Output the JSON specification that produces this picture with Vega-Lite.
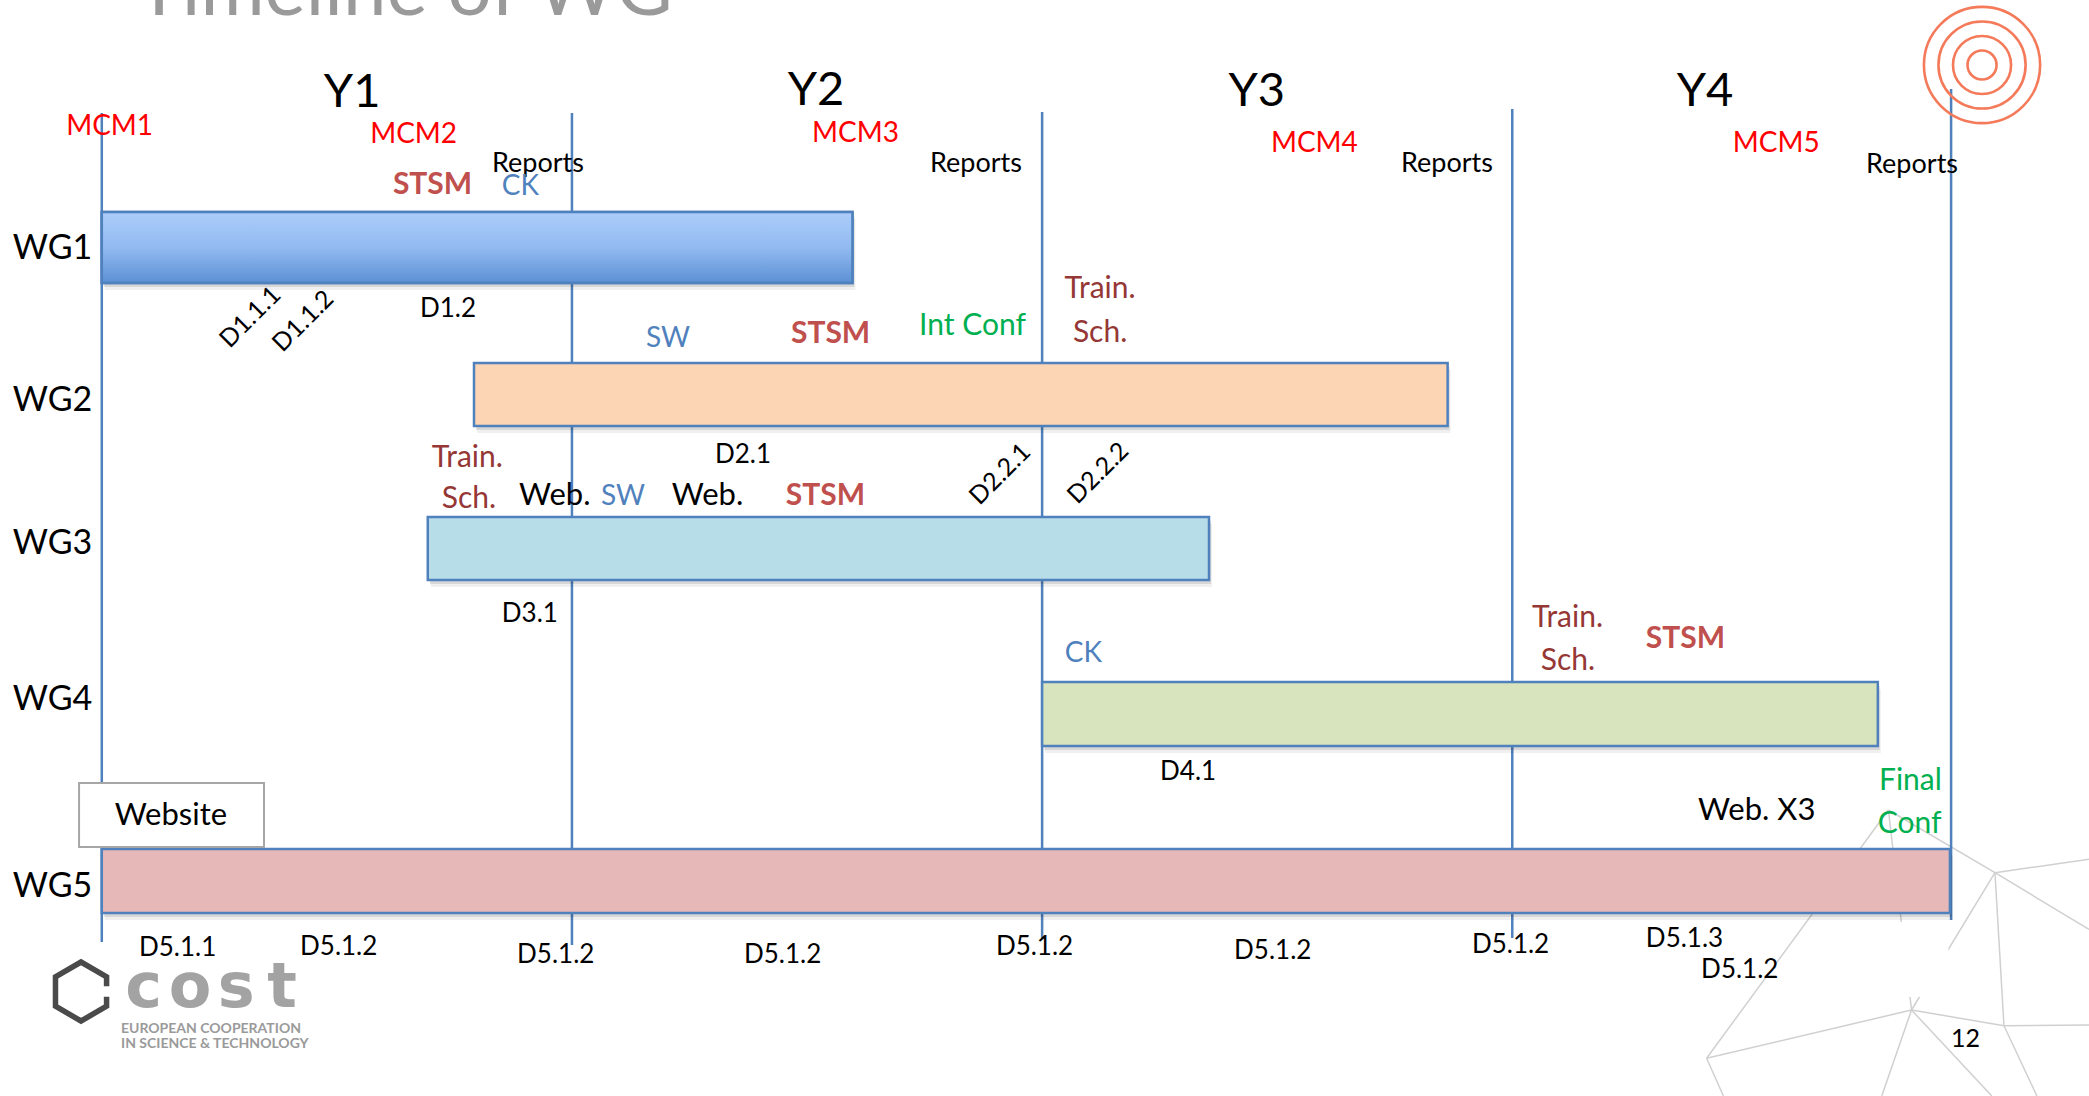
{
  "$schema": "https://vega.github.io/schema/vega-lite/v6.json",
  "width": 2089,
  "height": 1096,
  "autosize": {"type": "none"},
  "padding": 0,
  "background": "white",
  "config": {"view": {"stroke": null}, "text": {"font": "Lato"}},
  "datasets": {
    "mesh": [
      {"month": 45.6, "row": 8.1, "month2": 40.96, "row2": 10.583},
      {"month": 45.6, "row": 8.1, "month2": 46.19, "row2": 10.1},
      {"month": 45.6, "row": 8.1, "month2": 48.32, "row2": 8.727},
      {"month": 48.32, "row": 8.727, "month2": 50.72, "row2": 8.592},
      {"month": 48.32, "row": 8.727, "month2": 50.72, "row2": 9.294},
      {"month": 48.32, "row": 8.727, "month2": 48.55, "row2": 10.257},
      {"month": 48.32, "row": 8.727, "month2": 46.19, "row2": 10.1},
      {"month": 46.19, "row": 10.1, "month2": 48.55, "row2": 10.257},
      {"month": 48.55, "row": 10.257, "month2": 50.72, "row2": 10.25},
      {"month": 46.19, "row": 10.1, "month2": 40.96, "row2": 10.583},
      {"month": 46.19, "row": 10.1, "month2": 45.43, "row2": 10.96},
      {"month": 46.19, "row": 10.1, "month2": 48.24, "row2": 10.96},
      {"month": 48.55, "row": 10.257, "month2": 49.39, "row2": 10.96},
      {"month": 40.96, "row": 10.583, "month2": 41.39, "row2": 10.96}
    ],
    "mask": [{"start": 44.79, "end": 47.13, "top": 9.22, "bottom": 9.97}],
    "lines": [
      {"month": 0, "top": 1.13, "bottom": 9.42},
      {"month": 12, "top": 1.13, "bottom": 9.45},
      {"month": 24, "top": 1.12, "bottom": 9.38},
      {"month": 36, "top": 1.09, "bottom": 9.38},
      {"month": 47.2, "top": 0.89, "bottom": 9.2}
    ],
    "groups": [
      {"wg": "WG1", "start": 0, "end": 19.16, "top": 2.12, "bottom": 2.83},
      {"wg": "WG2", "start": 9.5, "end": 34.35, "top": 3.63, "bottom": 4.26},
      {"wg": "WG3", "start": 8.32, "end": 28.26, "top": 5.17, "bottom": 5.8},
      {"wg": "WG4", "start": 24.0, "end": 45.33, "top": 6.82, "bottom": 7.46},
      {"wg": "WG5", "start": 0, "end": 47.17, "top": 8.49, "bottom": 9.13}
    ],
    "boxes": [{"start": -0.58, "end": 4.14, "top": 7.83, "bottom": 8.47}],
    "labels": [
      {"label": "Y1", "month": 6.39, "row": 1.07, "type": "year"},
      {"label": "Y2", "month": 18.23, "row": 1.05, "type": "year"},
      {"label": "Y3", "month": 29.48, "row": 1.06, "type": "year"},
      {"label": "Y4", "month": 40.92, "row": 1.06, "type": "year"},
      {"label": "MCM1", "month": -0.91, "row": 1.35, "type": "meeting"},
      {"label": "MCM2", "month": 6.85, "row": 1.43, "type": "meeting"},
      {"label": "MCM3", "month": 18.13, "row": 1.42, "type": "meeting"},
      {"label": "MCM4", "month": 29.84, "row": 1.52, "type": "meeting"},
      {"label": "MCM5", "month": 41.63, "row": 1.52, "type": "meeting"},
      {"label": "Reports", "month": 9.96, "row": 1.72, "type": "report"},
      {"label": "Reports", "month": 21.14, "row": 1.72, "type": "report"},
      {"label": "Reports", "month": 33.16, "row": 1.72, "type": "report"},
      {"label": "Reports", "month": 45.03, "row": 1.73, "type": "report"},
      {"label": "STSM", "month": 7.43, "row": 1.94, "type": "stsm"},
      {"label": "STSM", "month": 17.59, "row": 3.43, "type": "stsm"},
      {"label": "STSM", "month": 17.46, "row": 5.05, "type": "stsm"},
      {"label": "STSM", "month": 39.41, "row": 6.48, "type": "stsm"},
      {"label": "CK", "month": 10.21, "row": 1.95, "type": "activity"},
      {"label": "SW", "month": 13.89, "row": 3.47, "type": "activity"},
      {"label": "SW", "month": 12.74, "row": 5.05, "type": "activity"},
      {"label": "CK", "month": 24.58, "row": 6.62, "type": "activity"},
      {"label": "Train.", "month": 25.48, "row": 2.98, "type": "training"},
      {"label": "Sch.", "month": 25.48, "row": 3.42, "type": "training"},
      {"label": "Train.", "month": 9.33, "row": 4.67, "type": "training"},
      {"label": "Sch.", "month": 9.37, "row": 5.08, "type": "training"},
      {"label": "Train.", "month": 37.41, "row": 6.27, "type": "training"},
      {"label": "Sch.", "month": 37.42, "row": 6.7, "type": "training"},
      {"label": "Int Conf", "month": 20.86, "row": 3.35, "type": "conference"},
      {"label": "Final", "month": 45.36, "row": 7.9, "type": "conference"},
      {"label": "Conf", "month": 45.33, "row": 8.33, "type": "conference"},
      {"label": "Web.", "month": 10.65, "row": 5.05, "type": "webinar"},
      {"label": "Web.", "month": 14.55, "row": 5.05, "type": "webinar"},
      {"label": "Website", "month": 0.33, "row": 8.25, "type": "webinar"},
      {"label": "Web. X3", "month": 40.74, "row": 8.2, "type": "webinar"},
      {"label": "D1.2", "month": 8.12, "row": 3.17, "type": "deliverable"},
      {"label": "D2.1", "month": 15.65, "row": 4.63, "type": "deliverable"},
      {"label": "D3.1", "month": 10.21, "row": 6.22, "type": "deliverable"},
      {"label": "D4.1", "month": 27.01, "row": 7.8, "type": "deliverable"},
      {"label": "D5.1.1", "month": 0.95, "row": 9.56, "type": "deliverable"},
      {"label": "D5.1.2", "month": 5.06, "row": 9.55, "type": "deliverable"},
      {"label": "D5.1.2", "month": 10.6, "row": 9.63, "type": "deliverable"},
      {"label": "D5.1.2", "month": 16.39, "row": 9.63, "type": "deliverable"},
      {"label": "D5.1.2", "month": 22.82, "row": 9.55, "type": "deliverable"},
      {"label": "D5.1.2", "month": 28.9, "row": 9.59, "type": "deliverable"},
      {"label": "D5.1.2", "month": 34.97, "row": 9.53, "type": "deliverable"},
      {"label": "D5.1.3", "month": 39.41, "row": 9.47, "type": "deliverable"},
      {"label": "D5.1.2", "month": 40.82, "row": 9.78, "type": "deliverable"},
      {"label": "WG1", "month": -2.27, "row": 2.59, "type": "group"},
      {"label": "WG2", "month": -2.27, "row": 4.11, "type": "group"},
      {"label": "WG3", "month": -2.27, "row": 5.54, "type": "group"},
      {"label": "WG4", "month": -2.27, "row": 7.1, "type": "group"},
      {"label": "WG5", "month": -2.27, "row": 8.97, "type": "group"},
      {"label": "12", "month": 47.2, "row": 10.47, "type": "page"}
    ],
    "slanted": [
      {"label": "D1.1.1", "month": 3.79, "row": 3.17},
      {"label": "D1.1.2", "month": 5.14, "row": 3.21},
      {"label": "D2.2.1", "month": 22.93, "row": 4.74},
      {"label": "D2.2.2", "month": 25.43, "row": 4.73}
    ],
    "title": [{"label": "Timeline of WG", "month": 0.87, "row": 0.15}],
    "rings": [
      {"ring": 1, "month": 47.99, "row": 0.65},
      {"ring": 2, "month": 47.99, "row": 0.65},
      {"ring": 3, "month": 47.99, "row": 0.65},
      {"ring": 4, "month": 47.99, "row": 0.65}
    ],
    "logo": [{"month": -0.53, "row": 9.915}],
    "logoLetters": [
      {"label": "c", "month": 1.07, "row": 10.07},
      {"label": "o", "month": 2.25, "row": 10.07},
      {"label": "s", "month": 3.43, "row": 10.07},
      {"label": "t", "month": 4.6, "row": 10.07}
    ],
    "logoText": [
      {"label": "EUROPEAN COOPERATION", "month": 0.49, "row": 10.33},
      {"label": "IN SCIENCE & TECHNOLOGY", "month": 0.49, "row": 10.48}
    ]
  },
  "encoding": {
    "x": {"field": "month", "type": "quantitative", "scale": {"domain": [-2.598, 50.72]}, "axis": null},
    "y": {"field": "row", "type": "quantitative", "scale": {"domain": [0, 10.96], "reverse": true}, "axis": null}
  },
  "layer": [
    {
      "data": {"name": "mesh"},
      "mark": {"type": "rule", "color": "#d0d0d0", "strokeWidth": 1.5},
      "encoding": {"x2": {"field": "month2"}, "y2": {"field": "row2"}}
    },
    {
      "data": {"name": "mask"},
      "mark": {"type": "rect", "fill": "white"},
      "encoding": {
        "x": {"field": "start", "type": "quantitative"},
        "x2": {"field": "end"},
        "y": {"field": "top", "type": "quantitative"},
        "y2": {"field": "bottom"}
      }
    },
    {
      "data": {"name": "lines"},
      "mark": {"type": "rule", "color": "#4f81bd", "strokeWidth": 2.5},
      "encoding": {
        "y": {"field": "top", "type": "quantitative"},
        "y2": {"field": "bottom"}
      }
    },
    {
      "data": {"name": "groups"},
      "mark": {"type": "rect", "fill": "#000000", "opacity": 0.06, "xOffset": 3, "x2Offset": 3, "yOffset": 7, "y2Offset": 7},
      "encoding": {
        "x": {"field": "start", "type": "quantitative"},
        "x2": {"field": "end"},
        "y": {"field": "top", "type": "quantitative"},
        "y2": {"field": "bottom"}
      }
    },
    {
      "data": {"name": "groups"},
      "mark": {"type": "rect", "fill": "#000000", "opacity": 0.1, "xOffset": 2, "x2Offset": 2, "yOffset": 4, "y2Offset": 4},
      "encoding": {
        "x": {"field": "start", "type": "quantitative"},
        "x2": {"field": "end"},
        "y": {"field": "top", "type": "quantitative"},
        "y2": {"field": "bottom"}
      }
    },
    {
      "data": {"name": "groups"},
      "mark": {"type": "rect", "stroke": "#4f81bd", "strokeWidth": 2.5, "fillOpacity": 1},
      "encoding": {
        "x": {"field": "start", "type": "quantitative"},
        "x2": {"field": "end"},
        "y": {"field": "top", "type": "quantitative"},
        "y2": {"field": "bottom"},
        "fill": {"field": "wg", "type": "nominal", "legend": null,
          "scale": {"domain": ["WG1", "WG2", "WG3", "WG4", "WG5"], "range": ["#ffffff", "#fcd5b5", "#b7dde8", "#d7e4bd", "#e6b9b8"]}}
      }
    },
    {
      "data": {"name": "groups"},
      "transform": [{"filter": "datum.wg === 'WG1'"}],
      "mark": {"type": "rect", "stroke": "#4f81bd", "strokeWidth": 2.5, "fillOpacity": 0.9,
        "fill": {"gradient": "linear", "x1": 0, "y1": 0, "x2": 0, "y2": 1,
          "stops": [{"offset": 0, "color": "#a3c7fa"}, {"offset": 0.5, "color": "#86b3ef"}, {"offset": 1, "color": "#4a84d0"}]}},
      "encoding": {
        "x": {"field": "start", "type": "quantitative"},
        "x2": {"field": "end"},
        "y": {"field": "top", "type": "quantitative"},
        "y2": {"field": "bottom"}
      }
    },
    {
      "data": {"name": "boxes"},
      "mark": {"type": "rect", "fill": "white", "stroke": "#a6a6a6", "strokeWidth": 2},
      "encoding": {
        "x": {"field": "start", "type": "quantitative"},
        "x2": {"field": "end"},
        "y": {"field": "top", "type": "quantitative"},
        "y2": {"field": "bottom"}
      }
    },
    {
      "data": {"name": "labels"},
      "transform": [{"filter": "datum.type === 'year'"}],
      "mark": {"type": "text", "align": "center", "baseline": "alphabetic", "fontSize": 47, "color": "#000000"},
      "encoding": {"text": {"field": "label"}}
    },
    {
      "data": {"name": "labels"},
      "transform": [{"filter": "datum.type === 'meeting'"}],
      "mark": {"type": "text", "align": "left", "baseline": "alphabetic", "fontSize": 28, "color": "#ff0000"},
      "encoding": {"text": {"field": "label"}}
    },
    {
      "data": {"name": "labels"},
      "transform": [{"filter": "datum.type === 'report'"}],
      "mark": {"type": "text", "align": "left", "baseline": "alphabetic", "fontSize": 27, "color": "#000000"},
      "encoding": {"text": {"field": "label"}}
    },
    {
      "data": {"name": "labels"},
      "transform": [{"filter": "datum.type === 'stsm'"}],
      "mark": {"type": "text", "align": "left", "baseline": "alphabetic", "fontSize": 30, "fontWeight": "bold", "color": "#c0504d"},
      "encoding": {"text": {"field": "label"}}
    },
    {
      "data": {"name": "labels"},
      "transform": [{"filter": "datum.type === 'activity'"}],
      "mark": {"type": "text", "align": "left", "baseline": "alphabetic", "fontSize": 28, "color": "#4f81bd"},
      "encoding": {"text": {"field": "label"}}
    },
    {
      "data": {"name": "labels"},
      "transform": [{"filter": "datum.type === 'training'"}],
      "mark": {"type": "text", "align": "center", "baseline": "alphabetic", "fontSize": 30, "color": "#953735"},
      "encoding": {"text": {"field": "label"}}
    },
    {
      "data": {"name": "labels"},
      "transform": [{"filter": "datum.type === 'conference'"}],
      "mark": {"type": "text", "align": "left", "baseline": "alphabetic", "fontSize": 30, "color": "#00b050"},
      "encoding": {"text": {"field": "label"}}
    },
    {
      "data": {"name": "labels"},
      "transform": [{"filter": "datum.type === 'webinar'"}],
      "mark": {"type": "text", "align": "left", "baseline": "alphabetic", "fontSize": 31, "color": "#000000"},
      "encoding": {"text": {"field": "label"}}
    },
    {
      "data": {"name": "labels"},
      "transform": [{"filter": "datum.type === 'deliverable'"}],
      "mark": {"type": "text", "align": "left", "baseline": "alphabetic", "fontSize": 26, "color": "#000000"},
      "encoding": {"text": {"field": "label"}}
    },
    {
      "data": {"name": "labels"},
      "transform": [{"filter": "datum.type === 'group'"}],
      "mark": {"type": "text", "align": "left", "baseline": "alphabetic", "fontSize": 34, "color": "#000000"},
      "encoding": {"text": {"field": "label"}}
    },
    {
      "data": {"name": "labels"},
      "transform": [{"filter": "datum.type === 'page'"}],
      "mark": {"type": "text", "align": "left", "baseline": "alphabetic", "fontSize": 25, "color": "#000000"},
      "encoding": {"text": {"field": "label"}}
    },
    {
      "data": {"name": "slanted"},
      "mark": {"type": "text", "align": "center", "baseline": "middle", "fontSize": 25, "angle": 315, "color": "#000000"},
      "encoding": {"text": {"field": "label"}}
    },
    {
      "data": {"name": "title"},
      "mark": {"type": "text", "align": "left", "baseline": "alphabetic", "fontSize": 78, "color": "#9a9a9a"},
      "encoding": {"text": {"field": "label"}}
    },
    {
      "data": {"name": "rings"},
      "mark": {"type": "point", "shape": "circle", "filled": false, "stroke": "#f47a5a", "strokeWidth": 2.6, "opacity": 1},
      "encoding": {
        "size": {"field": "ring", "type": "quantitative", "legend": null,
          "scale": {"type": "pow", "exponent": 2, "domain": [0, 4], "range": [0, 13500]}}
      }
    },
    {
      "data": {"name": "logo"},
      "mark": {"type": "point", "filled": false, "stroke": "#4a4a4a", "strokeWidth": 5.5, "opacity": 1, "size": 3481, "strokeJoin": "miter",
        "shape": "M 0.866 -0.18 L 0.866 -0.5 L 0 -1 L -0.866 -0.5 L -0.866 0.5 L 0 1 L 0.866 0.5 L 0.866 0.18"}
    },
    {
      "data": {"name": "logoLetters"},
      "mark": {"type": "text", "align": "center", "baseline": "alphabetic", "font": "DejaVu Sans", "fontWeight": "bold", "fontSize": 62, "color": "#a3a3a3"},
      "encoding": {"text": {"field": "label"}}
    },
    {
      "data": {"name": "logoText"},
      "mark": {"type": "text", "align": "left", "baseline": "alphabetic", "fontSize": 14, "fontWeight": "bold", "color": "#9a9a9a"},
      "encoding": {"text": {"field": "label"}}
    }
  ]
}
